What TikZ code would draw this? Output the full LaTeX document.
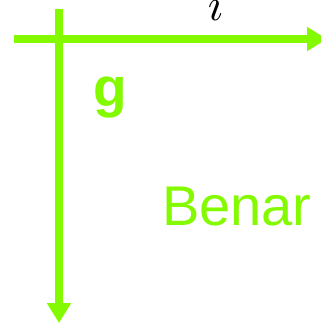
\documentclass[tikz,border=0pt]{standalone}
\usepackage{fontspec}
\setsansfont{Liberation Sans}
\usetikzlibrary{arrows.meta}
\definecolor{lime}{RGB}{132,250,0}
\tikzset{
  axis/.style={draw=lime, line width=8pt, -{Triangle[length=20pt,width=23pt]}},
  greenlbl/.style={text=lime, inner sep=0pt, anchor=base west, font=\sffamily}
}
\begin{document}
\begin{tikzpicture}[x=1pt,y=-1pt]
\useasboundingbox (0,0) rectangle (321,324);
\clip (0,0) rectangle (321,324);
\coordinate (hs) at (14,39);
\coordinate (he) at (327,39);
\coordinate (vs) at (59,9);
\coordinate (ve) at (59,323);
\draw[axis] (hs) -- (he);
\draw[axis] (vs) -- (ve);
\node[inner sep=0pt, anchor=base west, scale=4.6, transform shape=false] (i) at (207,20) {$i$};
\node[greenlbl, font=\sffamily\bfseries\fontsize{55}{60}\selectfont] (g) at (93,106) {g};
\node[greenlbl, font=\sffamily\fontsize{56}{60}\selectfont] (benar) at (162,225) {Benar};
\end{tikzpicture}
\end{document}
